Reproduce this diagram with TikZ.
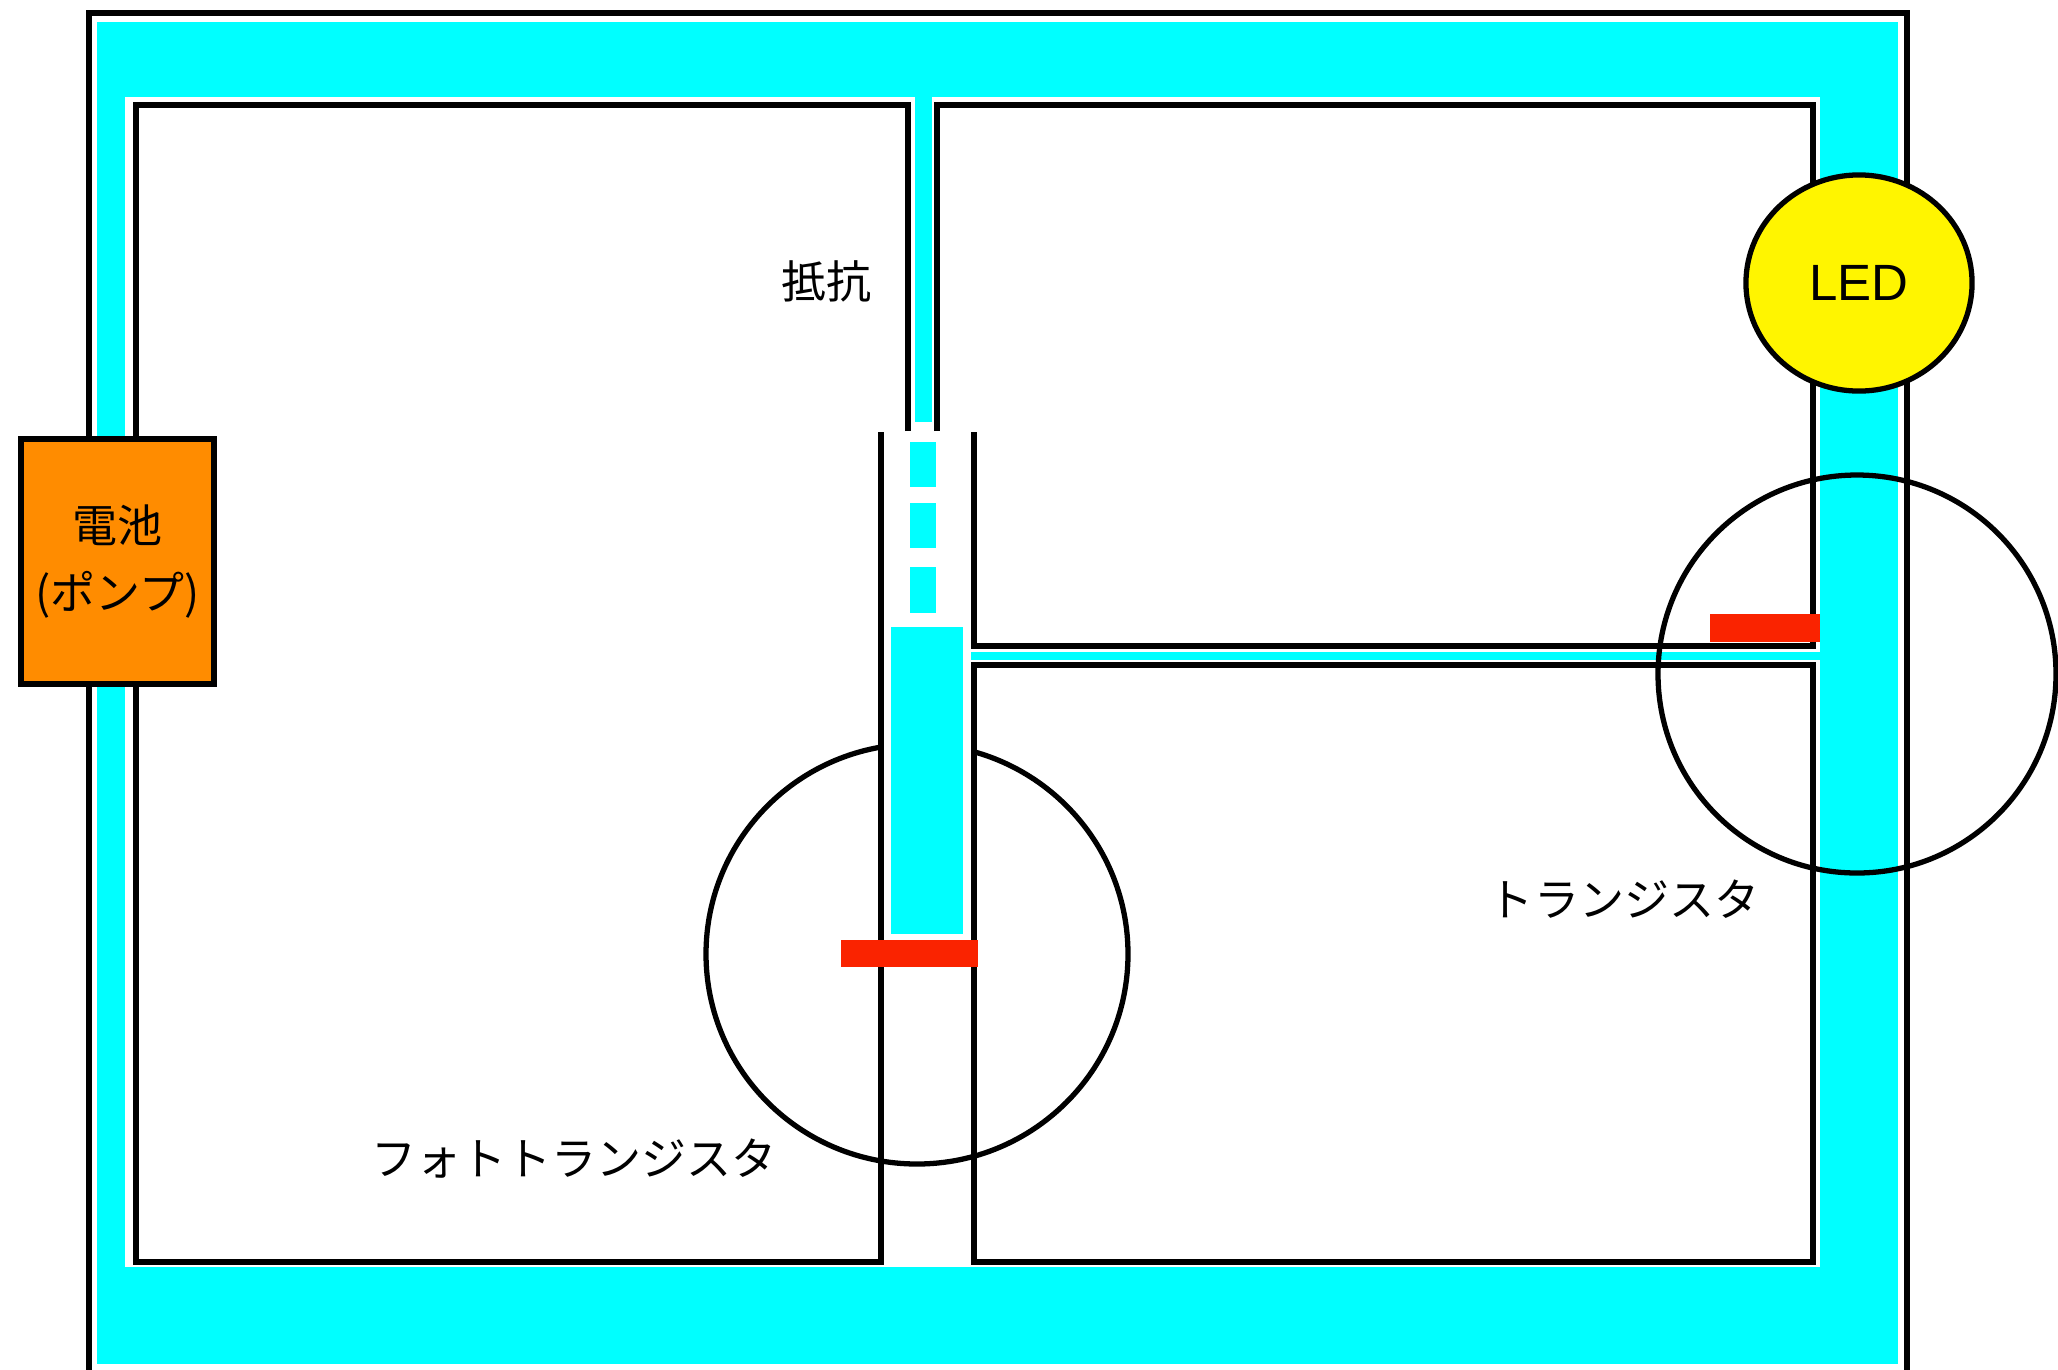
\documentclass[tikz,border=0pt]{standalone}
\usepackage{fontspec}
\setmainfont{Liberation Sans}
\newfontfamily\jp{Noto Sans CJK JP}
\usetikzlibrary{shapes.geometric}
\definecolor{pipe}{RGB}{0,255,255}
\definecolor{cell}{RGB}{255,140,0}
\definecolor{lamp}{RGB}{255,245,0}
\definecolor{gate}{RGB}{250,35,0}

\begin{document}
\begin{tikzpicture}[x=0.01cm,y=-0.01cm,
  wall/.style={line width=1.9pt, line join=miter},
  ring/.style={line width=1.5pt},
  jlabel/.style={font=\jp\fontsize{12.8pt}{19pt}\selectfont, inner sep=0pt},
]
\useasboundingbox (0,0) rectangle (2058,1369);

% water filling the pipe loop
\fill[pipe] (97,22) rectangle (1898,1364);
\fill[white] (125,97) rectangle (1820,1267);
\fill[pipe] (915,90) rectangle (932,422);
\fill[pipe] (960,652) rectangle (1825,660);

% photo transistor body, partly hidden behind the channel
\draw[ring] (917,954) ellipse [x radius=211, y radius=210];
\fill[white] (884,432) rectangle (971,938);

% thin stream through the resistor, then the wide column
\foreach \a/\b in {442/487, 503/548, 567/613}
  \fill[pipe] (910,\a) rectangle (936,\b);
\fill[pipe] (891,627) rectangle (963,934);

% outer frame
\draw[wall] (89,1380) -- (89,13) -- (1907,13) -- (1907,1380);
% left block
\draw[wall] (908,431) -- (908,105) -- (136,105) -- (136,1262) -- (881,1262) -- (881,432);
% upper right block
\draw[wall] (937,431) -- (937,105) -- (1813,105) -- (1813,646) -- (974,646) -- (974,432);
% lower right block
\draw[wall] (974,665) -- (1813,665) -- (1813,1262) -- (974,1262) -- cycle;

% gates of the two transistors
\fill[gate] (841,940) rectangle (978,967);
\fill[gate] (1710,614) rectangle (1820,642);

% battery (pump)
\node[draw, fill=cell, line width=1.9pt, minimum width=1.93cm, minimum height=2.45cm,
      jlabel, align=center] (battery) at (117.5,561.5) {電池\\(ポンプ)};

% LED
\node[ellipse, draw, fill=lamp, ring, minimum width=2.26cm, minimum height=2.16cm,
      inner sep=0pt, font=\fontsize{14.5pt}{16pt}\selectfont] (led) at (1859,283) {LED};

% transistor
\draw[ring] (1857,674) circle [radius=199];

% labels
\node[jlabel] (resistor) at (826,281) {抵抗};
\node[jlabel] (phototr) at (574,1159) {フォトトランジスタ};
\node[jlabel] (tr) at (1624,899) {トランジスタ};
\end{tikzpicture}
\end{document}
